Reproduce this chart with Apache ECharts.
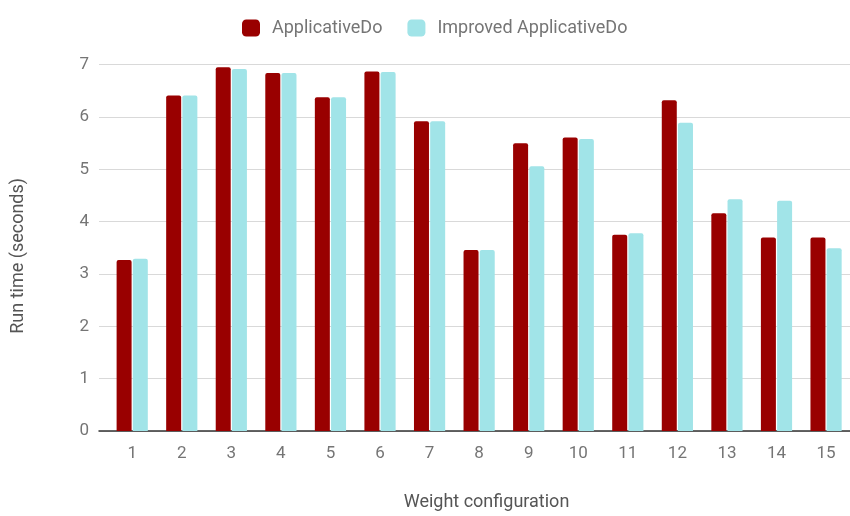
<!DOCTYPE html>
<html>
<head>
<meta charset="utf-8">
<title>Run time by weight configuration</title>
<script src="https://cdn.jsdelivr.net/npm/echarts@6/dist/echarts.min.js"></script>
<style>
  html, body { margin: 0; padding: 0; background: #ffffff; }
  #chart { width: 850px; height: 516px; }
</style>
</head>
<body>
<div id="chart"></div>
<script>
// Weight configurations 1..15
const configs = [1, 2, 3, 4, 5, 6, 7, 8, 9, 10, 11, 12, 13, 14, 15];
const seriesNames = ['ApplicativeDo', 'Improved ApplicativeDo'];
// Run time in seconds
const applicativeDo = [3.27, 6.41, 6.95, 6.84, 6.38, 6.87, 5.92, 3.46, 5.50, 5.61, 3.75, 6.32, 4.16, 3.70, 3.70];
const improvedApplicativeDo = [3.29, 6.41, 6.92, 6.84, 6.38, 6.86, 5.92, 3.46, 5.06, 5.58, 3.78, 5.89, 4.43, 4.40, 3.49];
const yTicks = [0, 1, 2, 3, 4, 5, 6, 7];

const colors = ['#990000', '#a1e4e8'];
const labelGray = '#757575';
const titleGray = '#555555';
const font = 'Roboto, "Noto Sans", sans-serif';

const chart = echarts.init(document.getElementById('chart'), null, { renderer: 'canvas' });

const toPoints = (vals) => configs.map((c, i) => [c, vals[i]]);

chart.setOption({
  animation: false,
  backgroundColor: '#ffffff',
  color: colors,
  legend: {
    top: 14,
    left: 237,
    itemWidth: 18,
    itemHeight: 17,
    itemGap: 25,
    icon: 'roundRect',
    textStyle: { color: labelGray, fontSize: 18, fontFamily: font, padding: [0, 0, 0, 7] },
    data: seriesNames
  },
  grid: { left: 99, right: 0, top: 64.7, bottom: 80.3, containLabel: false },
  xAxis: {
    type: 'value',
    min: 0.33,
    max: 15.483,
    name: 'Weight configuration',
    nameLocation: 'middle',
    nameGap: 62,
    nameTextStyle: { color: titleGray, fontSize: 18, fontFamily: font, padding: [0, 0, 0, 24] },
    axisLine: { show: true, onZero: false, lineStyle: { color: '#333333', width: 1.5 } },
    axisTick: { show: false },
    splitLine: { show: false },
    axisLabel: {
      customValues: configs,
      color: labelGray,
      fontSize: 17,
      fontFamily: font,
      margin: 14
    }
  },
  yAxis: {
    type: 'value',
    min: yTicks[0],
    max: yTicks[yTicks.length - 1],
    interval: 1,
    name: 'Run time (seconds)',
    nameLocation: 'middle',
    nameGap: 72,
    nameTextStyle: { color: titleGray, fontSize: 18, fontFamily: font, padding: [0, 16, 0, 0] },
    axisLine: { show: false },
    axisTick: { show: false },
    splitLine: { lineStyle: { color: '#d9d9d9', width: 1.2 } },
    axisLabel: { color: labelGray, fontSize: 17, fontFamily: font, margin: 10 }
  },
  series: [
    {
      name: seriesNames[0],
      type: 'bar',
      barWidth: 15,
      barGap: '8%',
      itemStyle: { color: colors[0], borderRadius: [2, 2, 0, 0] },
      data: toPoints(applicativeDo)
    },
    {
      name: seriesNames[1],
      type: 'bar',
      barWidth: 15,
      barGap: '8%',
      itemStyle: { color: colors[1], borderRadius: [2, 2, 0, 0] },
      data: toPoints(improvedApplicativeDo)
    }
  ]
});
</script>
</body>
</html>
